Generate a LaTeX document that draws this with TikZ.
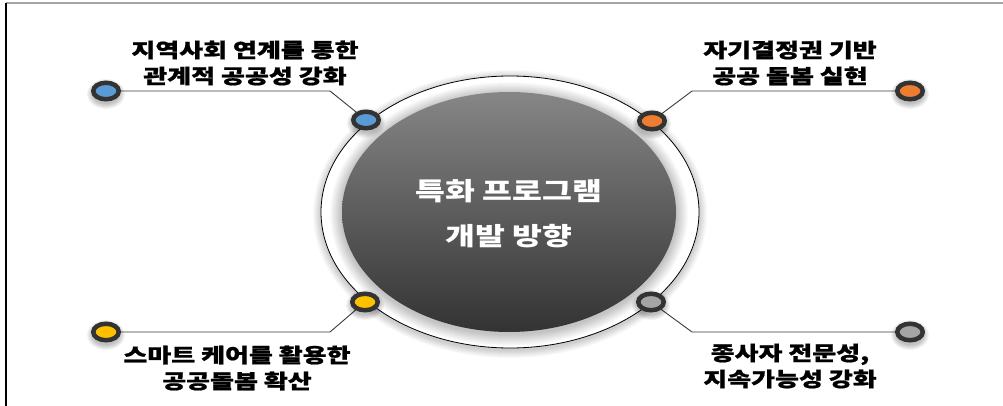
\documentclass[tikz,border=0pt]{standalone}
\usepackage{fontspec}
\newfontfamily\kr{Noto Sans CJK KR}[FakeStretch=1.3]
\newfontfamily\krh{Noto Sans CJK KR}[FakeStretch=1.3, BoldFeatures={FakeBold=0.9}]
\usetikzlibrary{shapes.geometric,calc}
\definecolor{dotring}{HTML}{333333}
\definecolor{cblue}{HTML}{5B9BD5}
\definecolor{corange}{HTML}{ED7D31}
\definecolor{cyellow}{HTML}{FFC000}
\definecolor{cgray}{HTML}{A5A5A5}
\definecolor{connc}{HTML}{3A3A3A}
\definecolor{coretop}{HTML}{868686}
\definecolor{corebot}{HTML}{333333}
\newcommand\dotshadow[1]{%
  \foreach \i in {1,...,6}{\fill[black, opacity=0.045] ($(#1)+(0,3)$) ellipse [x radius={13pt+\i pt}, y radius={9pt+\i pt}];}}
\begin{document}
\begin{tikzpicture}[x=1pt,y=-1pt,
  dotnode/.style={ellipse, draw=dotring, line width=4.5pt, minimum width=25.5pt, minimum height=16.5pt, inner sep=0pt},
  connline/.style={draw=connc, line width=0.9pt},
  lbl/.style={font=\krh\bfseries\fontsize{20}{26}\selectfont, align=center, text=black},
  ]
\useasboundingbox (0,0) rectangle (1003,406);
\fill[white] (0,0) rectangle (1003,406);
\draw[gray!70, line width=1.5pt] (6,3) -- (1003,3);
\draw[black, line width=1.5pt] (6,3) -- (6,406);

% halo around outer ring
\foreach \i in {1,...,8}{\fill[black, opacity=0.022] (510,214) ellipse [x radius={189pt+\i pt}, y radius={136pt+\i pt}];}
\node[ellipse, draw=black, line width=0.8pt, fill=white, minimum width=378pt, minimum height=272pt] (ring) at (510,212) {};
% glow around core
\foreach \i in {1,...,12}{\fill[black, opacity=0.018] (509,214) ellipse [x radius={167pt+\i pt}, y radius={120pt+\i pt}];}
\node[ellipse, minimum width=334pt, minimum height=240pt, top color=coretop, bottom color=corebot] (core) at (509,212) {};
\node[font=\kr\bfseries\fontsize{25}{45}\selectfont, text=white, align=center] (title) at (509,214) {특화 프로그램\\개발 방향};

\coordinate (oTL) at (106,91);
\coordinate (rTL) at (366,120);
\coordinate (oTR) at (910,91);
\coordinate (rTR) at (652,121);
\coordinate (oBL) at (106,332);
\coordinate (rBL) at (365,302);
\coordinate (oBR) at (910,332);
\coordinate (rBR) at (651,302);
\coordinate (kTL) at (330,91);
\coordinate (kTR) at (692,91);
\coordinate (kBL) at (330,332);
\coordinate (kBR) at (692,332);

\draw[connline] (oTL) -- (kTL) -- (rTL);
\draw[connline] (oTR) -- (kTR) -- (rTR);
\draw[connline] (oBL) -- (kBL) -- (rBL);
\draw[connline] (oBR) -- (kBR) -- (rBR);

\foreach \p in {oTL,rTL,oTR,rTR,oBL,rBL,oBR,rBR}{\dotshadow{\p}}

\node[dotnode, fill=cblue] (dTL) at (oTL) {};
\node[dotnode, fill=cblue] (eTL) at (rTL) {};
\node[dotnode, fill=corange] (dTR) at (oTR) {};
\node[dotnode, fill=corange] (eTR) at (rTR) {};
\node[dotnode, fill=cyellow] (dBL) at (oBL) {};
\node[dotnode, fill=cyellow] (eBL) at (rBL) {};
\node[dotnode, fill=cgray] (dBR) at (oBR) {};
\node[dotnode, fill=cgray] (eBR) at (rBR) {};

\node[lbl] (tTL) at (245,63) {지역사회 연계를 통한\\관계적 공공성 강화};
\node[lbl] (tTR) at (790,63) {자기결정권 기반\\공공 돌봄 실현};
\node[lbl] (tBL) at (237,368) {스마트 케어를 활용한\\공공돌봄 확산};
\node[lbl] (tBR) at (790,366) {종사자 전문성,\\지속가능성 강화};
\end{tikzpicture}
\end{document}
